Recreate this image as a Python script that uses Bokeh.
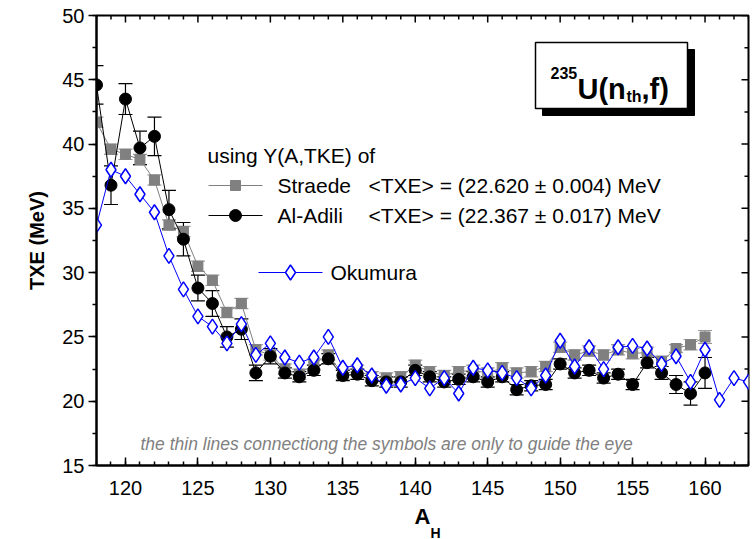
from bokeh.plotting import figure
from bokeh.models import (ColumnDataSource, Range1d, LinearAxis, SingleIntervalTicker,
                          Whisker, TeeHead, Label)
from bokeh.embed import file_html
from bokeh.resources import INLINE
import numpy as np

# ---- data -------------------------------------------------------------
A_exp = list(range(118, 161))
txe_adili = [44.6, 36.8, 43.5, 39.7, 40.6, 34.9, 32.6, 28.8, 27.6, 25.0,
             25.6, 22.2, 23.5, 22.2, 21.9, 22.4, 23.3, 22.0, 22.1, 21.6,
             21.5, 21.5, 22.4, 21.9, 21.5, 21.7, 21.9, 21.5, 21.9, 20.9,
             21.2, 21.3, 22.9, 22.2, 22.4, 21.8, 22.1, 21.3, 23.0, 22.2,
             21.3, 20.6, 22.2]
err_adili = [1.5, 1.5, 1.2, 1.3, 1.5, 1.5, 1.3, 1.0, 1.0, 0.8,
             0.8, 0.6, 0.6, 0.4, 0.4, 0.4, 0.4, 0.4, 0.4, 0.4,
             0.4, 0.4, 0.4, 0.4, 0.4, 0.4, 0.4, 0.4, 0.4, 0.4,
             0.4, 0.4, 0.4, 0.4, 0.4, 0.4, 0.4, 0.4, 0.4, 0.5,
             0.7, 0.9, 1.2]
txe_straede = [41.7, 39.6, 39.2, 38.8, 37.2, 33.7, 33.2, 30.5, 29.4, 26.9,
               27.6, 24.0, 23.6, 22.5, 22.1, 22.9, 23.6, 22.1, 22.4, 21.9,
               21.8, 21.9, 22.8, 22.3, 22.0, 22.3, 22.4, 22.2, 22.6, 22.2,
               22.3, 22.7, 24.2, 23.6, 23.9, 23.6, 24.0, 23.7, 23.8, 23.1,
               24.1, 24.4, 25.0]
err_straede = [0.4] * 40 + [0.3, 0.4, 0.5]

A_oku = list(range(118, 164))
txe_okumura = [33.7, 38.0, 37.5, 36.1, 34.7, 31.3, 28.7, 26.6, 25.8, 24.5,
               26.0, 23.6, 24.5, 23.4, 23.0, 23.4, 25.0, 22.6, 22.8, 22.0,
               21.2, 21.3, 21.8, 21.0, 21.8, 20.6, 22.6, 22.4, 22.2, 21.8,
               21.0, 22.0, 24.7, 22.7, 24.2, 22.5, 24.2, 24.3, 24.1, 22.9,
               23.5, 21.5, 24.0, 20.1, 21.8, 21.5]

# ---- frame geometry ---------------------------------------------------
W, H = 756, 539
FL, FR, FT, FB = 96, 748, 15, 465
X0, X1, Y0, Y1 = 118, 163, 15, 50
FONT = "Liberation Sans"
DX = (X1 - X0) / (FR - FL)   # data units per pixel, x
DY = (Y1 - Y0) / (FB - FT)   # data units per pixel, y


def sx(px):
    return X0 + (px - FL) * DX


def sy(py):
    return Y0 + (FB - py) * DY


p = figure(width=W, height=H, output_backend="svg", toolbar_location=None,
           x_range=Range1d(X0, X1), y_range=Range1d(Y0, Y1),
           x_axis_location=None, y_axis_location=None,
           min_border_left=FL, min_border_right=W - FR,
           min_border_top=FT, min_border_bottom=H - FB)
p.grid.visible = False
p.outline_line_color = "black"
p.outline_line_width = 2
p.background_fill_color = "white"
p.border_fill_color = "white"


def style(ax, tin, tout):
    ax.axis_line_width = 2
    ax.axis_line_color = "black"
    ax.major_tick_line_width = 1.5
    ax.minor_tick_line_width = 1.5
    ax.major_tick_in = tin
    ax.major_tick_out = tout
    ax.minor_tick_in = tin // 2 if tin else 0
    ax.minor_tick_out = tout // 2 if tout else 0
    ax.major_label_text_font = FONT
    ax.major_label_text_font_size = "20px"
    ax.major_label_text_color = "black"
    ax.axis_label_text_font = FONT
    ax.axis_label_text_font_style = "bold"
    ax.axis_label_text_color = "black"


bottom = LinearAxis(ticker=SingleIntervalTicker(interval=5, num_minor_ticks=5), axis_label="A")
style(bottom, 8, 0)
bottom.major_label_standoff = 15
bottom.axis_label_text_font_size = "22px"
bottom.axis_label_standoff = 6
p.add_layout(bottom, "below")

left = LinearAxis(ticker=SingleIntervalTicker(interval=5, num_minor_ticks=2),
                  axis_label="TXE (MeV)")
style(left, 0, 8)
left.major_label_standoff = 4
left.axis_label_text_font_size = "20px"
left.axis_label_standoff = 11
p.add_layout(left, "left")

# subscript of the x-axis title (kept in a side panel so it is not clipped)
p.add_layout(Label(x=sx(430), y=sy(532), text="H", text_font=FONT, text_font_style="bold",
                   text_font_size="14px", text_color="black", text_baseline="alphabetic",
                   text_align="left"), "left")

# ---- data series ------------------------------------------------------
s_src = ColumnDataSource(dict(A=A_exp, y=txe_straede,
                              lo=[v - e for v, e in zip(txe_straede, err_straede)],
                              hi=[v + e for v, e in zip(txe_straede, err_straede)]))
a_src = ColumnDataSource(dict(A=A_exp, y=txe_adili,
                              lo=[v - e for v, e in zip(txe_adili, err_adili)],
                              hi=[v + e for v, e in zip(txe_adili, err_adili)]))
o_src = ColumnDataSource(dict(A=A_oku, y=txe_okumura))

GRAY = "#808080"
BLUE = "#0000ff"

p.add_layout(Whisker(source=s_src, base="A", lower="lo", upper="hi", dimension="height",
                     line_color="#9a9a9a", line_width=1.2, level="underlay",
                     upper_head=TeeHead(size=14, line_color="#9a9a9a", line_width=1.2),
                     lower_head=TeeHead(size=14, line_color="#9a9a9a", line_width=1.2)))
p.line("A", "y", source=s_src, line_color=GRAY, line_width=1)
p.scatter("A", "y", source=s_src, marker="square", size=10, fill_color=GRAY, line_color=GRAY)

p.add_layout(Whisker(source=a_src, base="A", lower="lo", upper="hi", dimension="height",
                     line_color="black", line_width=1.2, level="underlay",
                     upper_head=TeeHead(size=14, line_color="black", line_width=1.2),
                     lower_head=TeeHead(size=14, line_color="black", line_width=1.2)))
p.line("A", "y", source=a_src, line_color="black", line_width=1)
p.scatter("A", "y", source=a_src, marker="circle", size=12, fill_color="black", line_color="black")

p.line("A", "y", source=o_src, line_color=BLUE, line_width=1)
p.scatter("A", "y", source=o_src, marker="diamond", size=15, fill_color="white",
          line_color=BLUE, line_width=1.5)

# ---- legend block -----------------------------------------------------
def label(px, py, text, size="21px", color="black", **kw):
    p.add_layout(Label(x=sx(px), y=sy(py), text=text, text_font=FONT, text_font_size=size,
                       text_color=color, text_baseline="middle", text_align="left", **kw))


label(207, 155, "using Y(A,TKE) of")
p.line([sx(208), sx(262)], [sy(185), sy(185)], line_color=GRAY, line_width=1)
p.scatter([sx(235)], [sy(185)], marker="square", size=10, fill_color=GRAY, line_color=GRAY)
label(277, 185, "Straede")
label(368, 185, "<TXE> = (22.620 \u00b1 0.004) MeV")
p.line([sx(208), sx(262)], [sy(215), sy(215)], line_color="black", line_width=1)
p.scatter([sx(235)], [sy(215)], marker="circle", size=12, fill_color="black", line_color="black")
label(277, 215, "Al-Adili")
label(368, 215, "<TXE> = (22.367 \u00b1 0.017) MeV")
p.line([sx(258), sx(322)], [sy(272), sy(272)], line_color=BLUE, line_width=1)
p.scatter([sx(290)], [sy(272)], marker="diamond", size=15, fill_color="white",
          line_color=BLUE, line_width=1.5)
label(330, 272, "Okumura")

label(140, 443, "the thin lines connectiong the symbols are only to guide the eye",
      size="17.5px", color=GRAY, text_font_style="italic")

# ---- reaction box -----------------------------------------------------
p.quad(left=sx(542), right=sx(694), top=sy(49), bottom=sy(115), fill_color="black",
       line_color="black")
p.quad(left=sx(535), right=sx(687), top=sy(42), bottom=sy(108), fill_color="white",
       line_color="black", line_width=1.5)


def tlabel(px, py, text, size):
    p.add_layout(Label(x=sx(px), y=sy(py), text=text, text_font=FONT, text_font_style="bold",
                       text_font_size=size, text_color="black", text_baseline="alphabetic",
                       text_align="left"))


tlabel(550, 72, "235", "16px")
tlabel(577, 88, "U(n", "29px")
tlabel(626, 96, "th", "16px")
tlabel(641, 88, ",f)", "29px")

# ---- inward ticks along the top and right frame edges -------------------
top_x = np.arange(X0, X1 + 1, dtype=float)
top_len = np.where(top_x % 5 == 0, 7.0, 4.0) * DY
p.segment(x0=top_x.copy(), y0=np.full(top_x.size, float(Y1)), x1=top_x.copy(),
          y1=Y1 - top_len, line_color="black", line_width=1.5)
right_y = np.arange(Y0, Y1 + 0.01, 2.5)
right_len = np.where(right_y % 5 == 0, 7.0, 4.0) * DX
p.segment(x0=np.full(right_y.size, float(X1)), y0=right_y.copy(), x1=X1 - right_len,
          y1=right_y.copy(), line_color="black", line_width=1.5)

open("out.html", "w").write(file_html(p, INLINE))
